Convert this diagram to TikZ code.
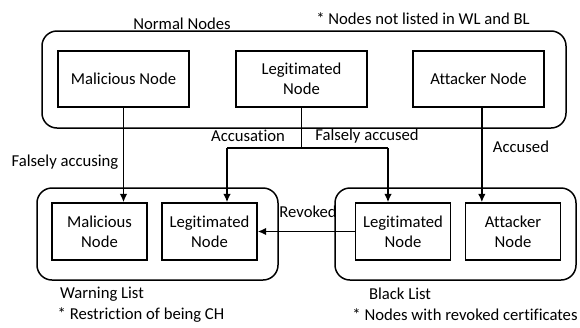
\documentclass[tikz,border=0pt]{standalone}
\usepackage{fontspec}
\setmainfont[Ligatures=NoCommon]{Carlito}
\usepackage{tikz}
\usetikzlibrary{arrows.meta, positioning, calc}

\tikzset{
  caixa/.style={draw, line width=0.9pt, align=center, font=\fontsize{10}{12}\selectfont},
  caixatopo/.style={caixa, minimum width=78.6pt, minimum height=33.6pt},
  caixabaixo/.style={caixa, minimum width=57pt, minimum height=34.2pt},
  grupo/.style={draw, line width=0.9pt, rounded corners=9pt},
  rotulo/.style={font=\fontsize{10}{12}\selectfont, inner sep=1pt},
  seta/.style={-{Latex[length=5pt,width=4.5pt]}, line width=0.9pt},
  linha/.style={line width=0.9pt}
}

\begin{document}
\begin{tikzpicture}[x=0.6pt, y=-0.6pt]
\useasboundingbox (0,0) rectangle (580,327);

% LAYER 1: Grupos (caixas arredondadas)
\draw[grupo] (42,31) rectangle (566,128);
\draw[grupo] (37,188) rectangle (278,280);
\draw[grupo] (335,188) rectangle (576,280);

\node[rotulo] (normais) at (182,24) {Normal Nodes};
\node[rotulo] (notanormal) at (423,19) {* Nodes not listed in WL and BL};
\node[rotulo] (warning) at (102,294) {Warning List};
\node[rotulo] (notawarning) at (141,315) {* Restriction of being CH};
\node[rotulo] (black) at (400,294) {Black List};
\node[rotulo] (notablack) at (465,315) {* Nodes with revoked certificates};

% LAYER 2: Nos normais
\node[caixatopo] (mal) at (123.5,79) {Malicious Node};
\node[caixatopo] (leg) at (301.5,79) {Legitimated\\Node};
\node[caixatopo] (att) at (478.5,79) {Attacker Node};

% LAYER 3: Nos nas listas
\node[caixabaixo] (wlmal) at (99.5,231.5) {Malicious\\Node};
\node[caixabaixo] (wlleg) at (209.5,231.5) {Legitimated\\Node};
\node[caixabaixo] (blleg) at (403,231.5) {Legitimated\\Node};
\node[caixabaixo] (blatt) at (513,231.5) {Attacker\\Node};

% LAYER 4: Ligacoes
\coordinate (splitL) at (227,148);
\coordinate (splitR) at (388,148);

\draw[seta] (mal.south) -- (mal.south |- wlmal.north);
\draw[linha] (leg.south) -- (leg.south |- splitL);
\draw[linha] (splitL) -- (splitR);
\draw[seta] (splitL) -- (splitL |- wlleg.north);
\draw[seta] (splitR) -- (splitR |- blleg.north);
\draw[seta] ([xshift=2pt]att.south) -- ([xshift=2pt]att.south |- blatt.north);
\draw[seta] (blleg.west) -- (wlleg.east);

% LAYER 5: Rotulos das ligacoes
\node[rotulo] (falsing) at (65,162) {Falsely accusing};
\node[rotulo] (accusation) at (248,136) {Accusation};
\node[rotulo] (falsed) at (367,136) {Falsely accused};
\node[rotulo] (accused) at (521,147) {Accused};
\node[rotulo] (revoked) at (308,212) {Revoked};
\end{tikzpicture}
\end{document}
